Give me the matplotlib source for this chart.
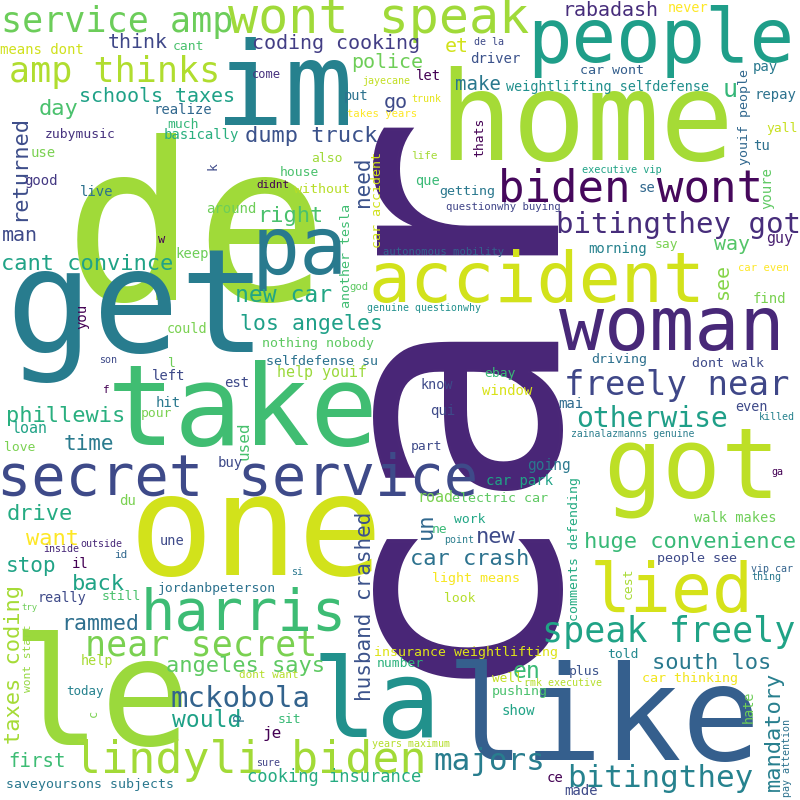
import matplotlib.pyplot as plt

# words of the cloud and their font size in pixels (the size stands for the frequency)
words = [
    "car", "de", "get", "one", "le", "like", "home", "im", "take", "la",
    "got", "pa", "woman", "people", "accident", "lied", "harris", "secret service", "wont speak", "biden wont",
    "lindyli biden", "speak freely", "near secret", "service amp", "amp thinks", "freely near", "bitingthey", "majors", "bitingthey got", "mckobola",
    "otherwise", "new car", "would", "en", "cant convince", "dump truck", "right", "day", "returned", "phillewis",
    "drive", "back", "want", "new", "car crash", "south los", "angeles says", "mandatory", "taxes coding", "husband crashed",
    "huge convenience", "rammed", "los angeles", "stop", "time", "need", "un", "rabadash", "think", "schools taxes",
    "man", "et", "police", "go", "coding cooking", "way", "see", "make", "first", "u",
    "cooking insurance", "used", "je", "help youif", "loan", "road", "guy", "going", "show", "means dont",
    "cant", "zubymusic", "realize", "much", "basically", "use", "k", "good", "live", "around",
    "didnt", "w", "keep", "de la", "driver", "let", "weightlifting selfdefense", "come", "jayecane", "put",
    "trunk", "takes years", "thats", "also", "house", "without", "car accident", "que", "getting", "questionwhy buying",
    "another tesla", "life", "autonomous mobility", "never", "car wont", "pay", "repay", "youif people", "yall", "tu",
    "executive vip", "se", "youre", "morning", "say", "car even", "you", "could", "nothing nobody", "son",
    "l", "selfdefense su", "left", "est", "f", "hit", "pour", "love", "buy", "du",
    "god", "genuine questionwhy", "ebay", "know", "window", "qui", "part", "car park", "electric car", "work",
    "ne", "find", "driving", "dont walk", "mai", "even", "killed", "zainalazmanns genuine", "ga", "comments defending",
    "walk makes", "people see", "vip car", "thing", "cest", "insurance weightlifting", "told", "plus", "car thinking", "rmk executive",
    "hate", "pushing", "ce", "made", "pay attention", "outside", "inside", "une", "id", "il",
    "jordanbpeterson", "really", "still", "try", "wont start", "help", "dont want", "today", "c", "p",
    "sit", "saveyoursons subjects", "sure", "si", "point", "light means", "look", "number", "well", "years maximum",
]

sizes = [
    330, 220, 145, 141, 150, 131, 123, 115, 113, 108,
    98, 80, 75, 74, 70, 68, 57, 57, 50, 44,
    45, 35, 35, 35, 35, 34, 31, 31, 29, 29,
    28, 23, 23, 23, 22, 22, 22, 22, 22, 22,
    22, 22, 22, 22, 22, 22, 22, 22, 22, 21,
    22, 21.5, 21.5, 21, 21, 21, 22, 20, 20, 20,
    20, 20, 20, 20, 20, 20, 20, 19, 19, 25,
    17, 16, 16, 15, 15, 15, 15, 14.5, 14, 14,
    13, 13, 14, 13, 14, 14, 13, 14, 14, 14,
    11, 12, 14, 10, 14, 14, 13.5, 12, 10, 13.6,
    10, 10.5, 13, 13, 13, 13.4, 13.4, 13.6, 13.4, 10.6,
    13.4, 11, 10.5, 13.5, 13.4, 14, 14, 13.4, 13, 14,
    10.2, 14, 14, 14, 13, 10.5, 14, 13.5, 13.2, 10,
    13, 13.4, 14, 14, 11, 14, 13, 13, 14, 14,
    10.6, 9.9, 13, 13.5, 14, 14, 13, 14, 13.4, 13,
    13, 14, 13.4, 13.2, 14, 13.5, 10, 9.8, 10, 13.3,
    13.6, 13.4, 10, 10, 13, 13.3, 13, 13, 13.4, 10,
    13.5, 13.4, 14, 14, 10, 10, 10, 13.6, 11, 14,
    13, 13.5, 13, 9, 11.3, 13.5, 11, 12.5, 12, 14,
    13, 13.3, 10, 10, 10, 13.4, 13, 13, 12.7, 10,
]

# layout: centre of the word on its baseline, in pixels from the top left
xs = [
    528, 196, 136, 256, 100, 603, 586, 284, 243, 377,
    692, 300, 672, 661, 537, 672, 244, 238, 379, 630,
    250, 669, 201, 117, 115, 677, 660, 489, 679, 240,
    652, 284, 207, 527, 87, 311, 290, 58, 25, 66,
    40, 98, 53, 496, 470, 712, 246, 780, 20, 371,
    690, 100, 312, 31, 89, 369, 432, 610, 138, 157,
    20, 457, 387, 396, 336, 732, 728, 478, 37, 730,
    334, 249, 272, 322, 30, 435, 780, 549, 518, 42,
    188, 80, 183, 183, 201, 43, 217, 41, 97, 231,
    273, 162, 192, 489, 495, 428, 608, 266, 386, 356,
    426, 382, 483, 327, 299, 322, 381, 428, 467, 503,
    350, 424, 444, 688, 612, 765, 775, 748, 782, 762,
    622, 647, 771, 618, 666, 763, 86, 187, 318, 108,
    172, 322, 169, 237, 106, 168, 157, 20, 230, 128,
    359, 424, 500, 437, 507, 443, 427, 520, 500, 470,
    440, 769, 619, 728, 571, 752, 777, 633, 777, 578,
    735, 697, 772, 766, 632, 466, 623, 585, 690, 563,
    753, 520, 555, 581, 790, 101, 61, 172, 121, 80,
    217, 62, 121, 29, 31, 97, 269, 85, 97, 241,
    289, 90, 268, 297, 459, 476, 460, 400, 507, 411,
]

ys = [
    380, 300, 352, 575, 745, 760, 160, 125, 445, 737,
    498, 274, 350, 62, 302, 612, 630, 495, 33, 202,
    773, 642, 656, 32, 82, 395, 787, 770, 233, 707,
    427, 302, 727, 678, 270, 142, 222, 115, 168, 422,
    520, 590, 545, 543, 565, 669, 672, 731, 665, 606,
    548, 630, 330, 572, 450, 182, 526, 16, 48, 102,
    241, 52, 68, 108, 49, 250, 281, 90, 767, 97,
    782, 441, 738, 377, 433, 502, 243, 470, 715, 54,
    50, 138, 114, 128, 139, 157, 166, 185, 196, 213,
    188, 243, 258, 45, 63, 80, 91, 78, 84, 100,
    102, 117, 137, 162, 176, 193, 200, 185, 195, 210,
    256, 159, 255, 12, 74, 71, 99, 117, 132, 150,
    173, 192, 188, 253, 248, 271, 316, 333, 347, 363,
    367, 365, 380, 387, 393, 407, 417, 451, 467, 505,
    290, 311, 377, 389, 395, 415, 450, 485, 502, 523,
    533, 303, 363, 367, 408, 411, 420, 437, 475, 549,
    522, 562, 572, 580, 583, 656, 658, 675, 682, 686,
    707, 695, 782, 795, 758, 547, 552, 545, 558, 568,
    592, 602, 600, 610, 658, 665, 678, 695, 713, 717,
    723, 788, 766, 575, 543, 582, 602, 667, 682, 747,
]

vertical = {
    "car", "returned", "mandatory", "taxes coding", "husband crashed", "need", "un",
    "see", "used", "k", "thats", "car accident", "another tesla", "youif people",
    "youre", "you", "comments defending", "cest", "hate", "pay attention",
    "wont start", "c", "p",
}

colors = [
    "#482576", "#a0da39", "#287c8e", "#d2e21b", "#9bd93c", "#355f8d", "#a5db36", "#26818e", "#40bd72", "#21918c",
    "#bddf26", "#297a8e", "#482878", "#1f9e89", "#d2e21b", "#d5e21a", "#3dbc74", "#3e4a89", "#a0da39", "#46085c",
    "#a2da37", "#20a386", "#7ad151", "#6ccd5a", "#b0dd2f", "#3f4788", "#26828e", "#287d8e", "#472d7b", "#33638d",
    "#1f9f88", "#21a685", "#1fa187", "#3aba76", "#20a386", "#3b528b", "#4ac16d", "#4ac16d", "#3d4d8a", "#29af7f",
    "#25ab82", "#20a386", "#fde725", "#3e4a89", "#2c728e", "#29798e", "#5ec962", "#277f8e", "#a5db36", "#3b528b",
    "#38b977", "#2e6f8e", "#1fa088", "#20a386", "#2b7b8e", "#3b528b", "#31688e", "#472d7b", "#3f4788", "#1fa187",
    "#3e4a89", "#d2e21b", "#6ece58", "#3e4a89", "#433e85", "#54c568", "#86d549", "#2a788e", "#3dbc74", "#35b779",
    "#25ab82", "#48c16e", "#440154", "#9bd93c", "#20a386", "#7ad151", "#481f70", "#2a788e", "#20a386", "#d0e11c",
    "#4ac16d", "#46327e", "#31688e", "#35b779", "#29af7f", "#7ad151", "#3e4a89", "#443983", "#2c728e", "#6ece58",
    "#440154", "#440154", "#6ece58", "#3e4a89", "#3b528b", "#440154", "#21908d", "#46317e", "#c2df23", "#2c728e",
    "#e5e419", "#fde725", "#440154", "#a0da39", "#4ac16d", "#b8de29", "#d0e11c", "#3aba76", "#2a788e", "#404588",
    "#40bd72", "#a5db36", "#33638d", "#fde725", "#355f8d", "#29798e", "#2c728e", "#31688e", "#c8e020", "#2d708e",
    "#20a386", "#31688e", "#5ec962", "#26828e", "#7ad151", "#fde725", "#440154", "#7ad151", "#5ec962", "#3e4a89",
    "#6ece58", "#2c728e", "#3e4a89", "#3e4a89", "#440154", "#2a788e", "#7ad151", "#7ad151", "#3e4a89", "#7ad151",
    "#5ec962", "#21908d", "#3aba76", "#3e4a89", "#d8e219", "#3e4a89", "#3e4a89", "#20a386", "#5ec962", "#21a685",
    "#3aba76", "#7ad151", "#2d708e", "#3e4a89", "#2f6b8e", "#3e4a89", "#26828e", "#2c7f8e", "#440154", "#25ab82",
    "#6ece58", "#3e4a89", "#33638d", "#2a788e", "#a8db34", "#dde318", "#23898e", "#3b528b", "#f1e51d", "#b5de2b",
    "#6ece58", "#4ac16d", "#440154", "#3e4a89", "#2c728e", "#482878", "#482878", "#3e4a89", "#31688e", "#440154",
    "#2c728e", "#3e4a89", "#4ac16d", "#6ece58", "#95d840", "#a8db34", "#b5de2b", "#26828e", "#7ad151", "#2a788e",
    "#3aba76", "#2a788e", "#414487", "#2a788e", "#2c7f8e", "#f6e620", "#b5de2b", "#2db27d", "#c2df23", "#b5de2b",
]

assert len(words) == len(sizes) == len(xs) == len(ys) == len(colors)

DPI = 100
fig = plt.figure(figsize=(8, 8), dpi=DPI, facecolor="white")
ax = fig.add_axes([0, 0, 1, 1])
ax.set_xlim(0, 800)
ax.set_ylim(800, 0)
ax.axis("off")

for w, s, x, y, c in zip(words, sizes, xs, ys, colors):
    ax.text(x, y, w, fontsize=s * 72 / DPI, family="DejaVu Sans Mono", color=c,
            rotation=90 if w in vertical else 0, rotation_mode="anchor",
            ha="center", va="baseline")

fig.savefig("out.png", dpi=DPI, facecolor="white")
